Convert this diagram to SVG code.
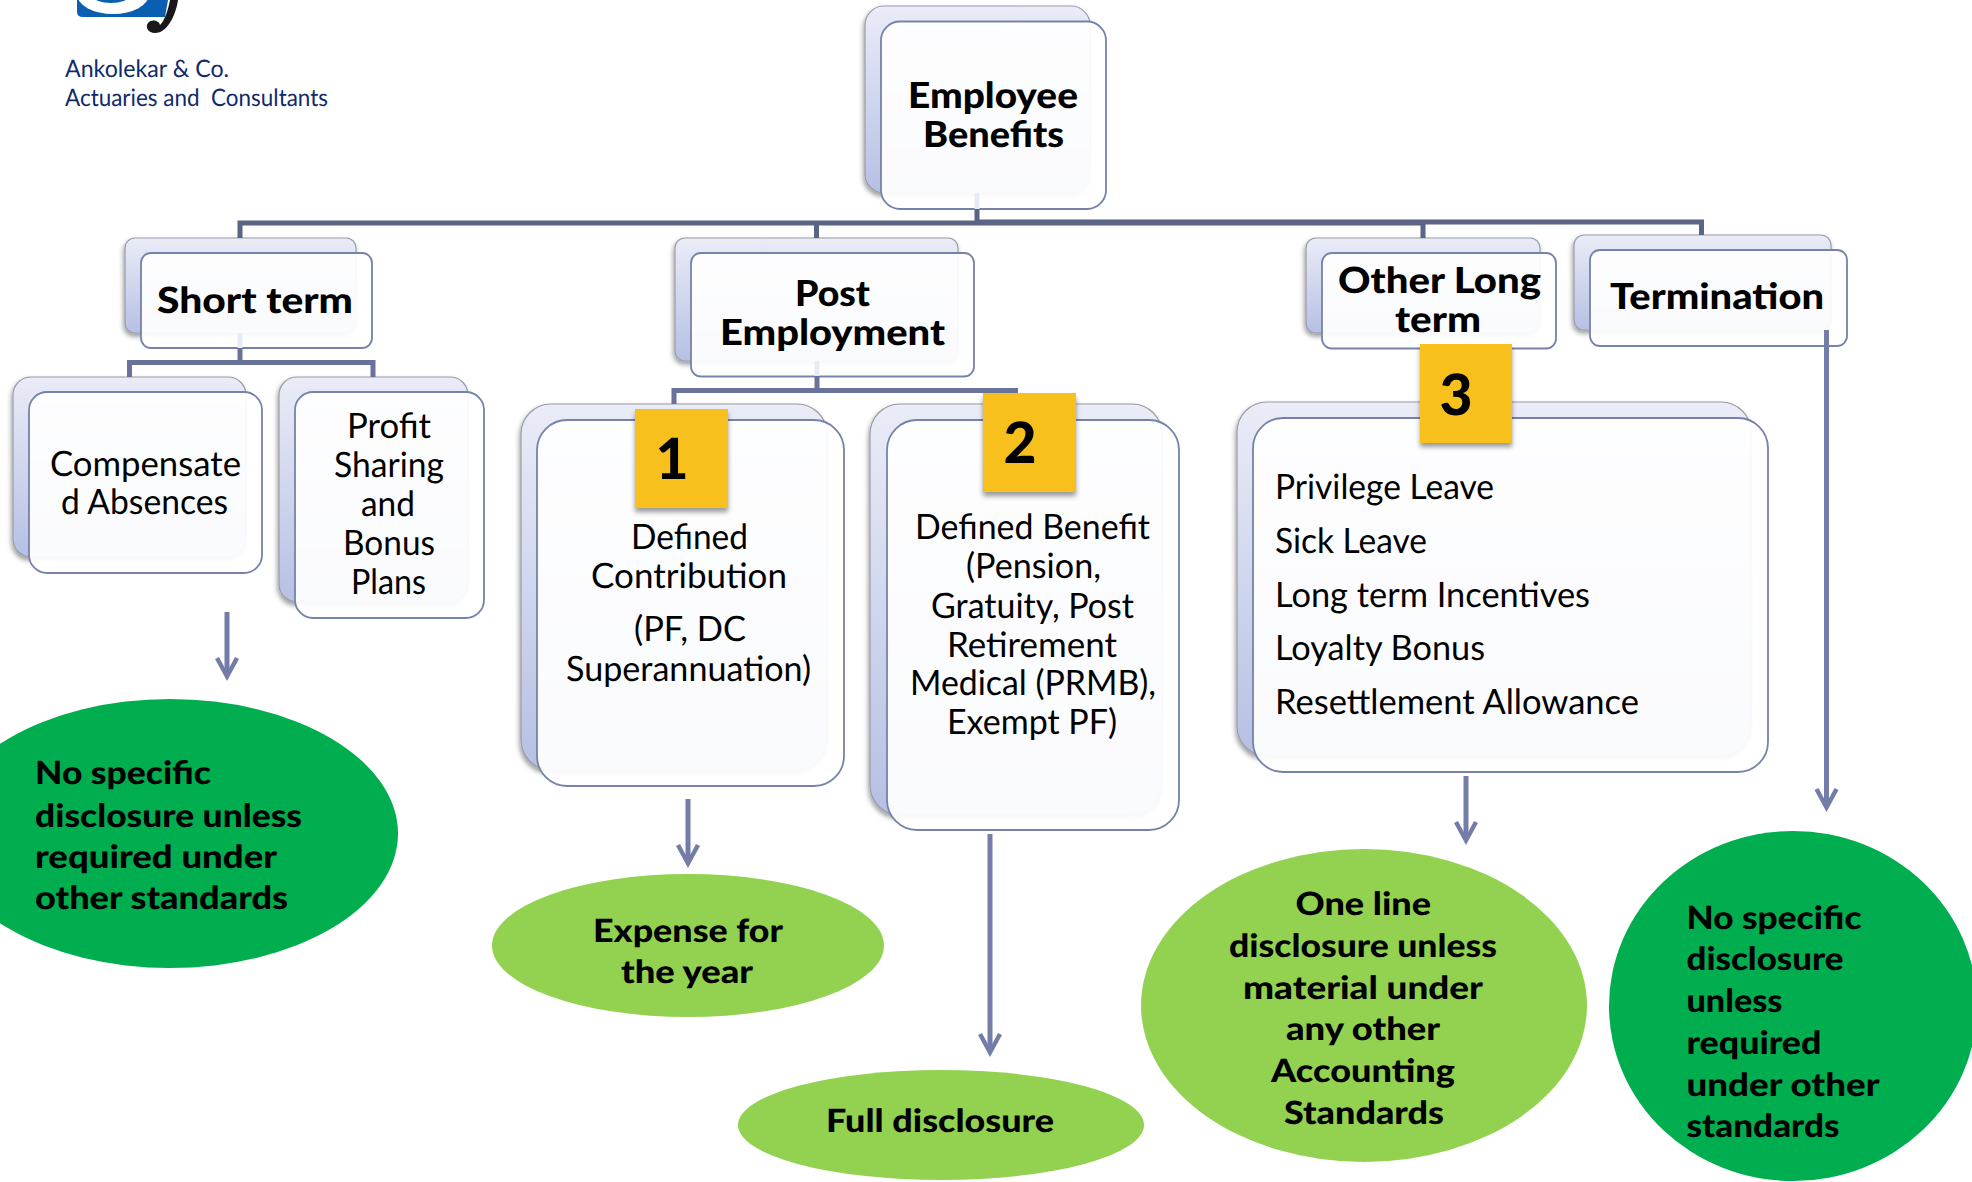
<svg xmlns="http://www.w3.org/2000/svg" width="1972" height="1182" viewBox="0 0 1972 1182">
<style>
text{font-family:"Lato","Liberation Sans",sans-serif;fill:#000;text-rendering:geometricPrecision}
.h{font-weight:900;font-size:36px;transform:translate(-1px,1px)}
.r{font-size:35px;transform:translate(-1px,1px)}
.g{font-weight:900;font-size:32px;transform:translate(-1px,1px)}
.n{font-weight:900;font-size:57px}
.l{font-size:24px;fill:#0f2a6c;transform:translate(-1px,0)}
.back{fill:url(#bk);stroke:#999ca6;stroke-width:1.2;filter:url(#sh)}
.front{fill:#fff;fill-opacity:.93;stroke:#7682ab;stroke-width:1.8}
.badge{fill:#f8c01e;filter:url(#sh2)}
.t1{fill:none;stroke:#5a6484;stroke-width:5}
.t2{fill:none;stroke:#68729a;stroke-width:5}
.f{fill:none;stroke:#e9ebf2;stroke-width:5}
.a{fill:none;stroke:#737da8;stroke-width:5;marker-end:url(#ah)}
.dk{fill:#00ae50}
.lt{fill:#92d250}
</style>
<defs>
<linearGradient id="bk" x1="0" y1="0" x2="0" y2="1"><stop offset="0" stop-color="#eaecf7"/><stop offset="1" stop-color="#b6c0e4"/></linearGradient>
<filter id="sh" x="-10%" y="-10%" width="120%" height="120%"><feDropShadow dx="-1" dy="3" stdDeviation="2.5" flood-color="#000" flood-opacity=".4"/></filter>
<filter id="sh2" x="-15%" y="-15%" width="130%" height="130%"><feDropShadow dx="0" dy="4" stdDeviation="2.5" flood-color="#000" flood-opacity=".4"/></filter>
<marker id="ah" markerUnits="userSpaceOnUse" viewBox="-24 -13 25 26" refX="-6" refY="0" markerWidth="25" markerHeight="26" orient="auto"><path d="M0,0 L-22,-12 L-24,-8 L-9,0 L-24,8 L-22,12 Z" fill="#737da8"/></marker>
</defs>
<rect width="1972" height="1182" fill="#fff"/>

<g id="logo">
<path d="M77,0 L77,12 Q77,17 83,17 L165,17 L168,0 Z" fill="#0a5fb0"/>
<ellipse cx="113" cy="-6" rx="36" ry="20" fill="#fff"/>
<ellipse cx="111" cy="-4" rx="18" ry="7" fill="#0a5fb0"/>
<path d="M170,0 L178,0 C176,14 168,33 155,33 C148,33 145,27 148,23 C151,19 159,20 160,25 C165,20 168,10 170,0 Z" fill="#1a1718"/>
<text class="l" x="66" y="77" textLength="164" lengthAdjust="spacingAndGlyphs">Ankolekar &amp; Co.</text>
<text class="l" x="66" y="106" textLength="263" lengthAdjust="spacingAndGlyphs" xml:space="preserve">Actuaries and  Consultants</text>
</g>

<g id="employee-benefits">
<rect class="back" x="865" y="6" width="225" height="187" rx="19"/>
<rect class="front" x="881" y="21.5" width="225" height="187.5" rx="19"/>
<text class="h" x="909" y="107" textLength="170" lengthAdjust="spacingAndGlyphs">Employee</text>
<text class="h" x="924" y="146" textLength="141" lengthAdjust="spacingAndGlyphs">Benefits</text>
</g>
<g id="short-term">
<rect class="back" x="125" y="238" width="231" height="95" rx="10"/>
<rect class="front" x="141" y="253" width="231" height="95" rx="10"/>
<text class="h" x="158" y="312" textLength="196" lengthAdjust="spacingAndGlyphs">Short term</text>
</g>
<g id="post-employment">
<rect class="back" x="675" y="238" width="283" height="123" rx="10"/>
<rect class="front" x="691" y="253" width="283" height="123.5" rx="10"/>
<text class="h" x="796" y="305" textLength="75" lengthAdjust="spacingAndGlyphs">Post</text>
<text class="h" x="721" y="344" textLength="225" lengthAdjust="spacingAndGlyphs">Employment</text>
</g>
<g id="other-long-term">
<rect class="back" x="1306" y="238" width="234" height="95" rx="10"/>
<rect class="front" x="1322" y="253" width="234" height="95.500" rx="10"/>
<text class="h" x="1339" y="292" textLength="203" lengthAdjust="spacingAndGlyphs">Other Long</text>
<text class="h" x="1396" y="331" textLength="86" lengthAdjust="spacingAndGlyphs">term</text>
</g>
<g id="termination">
<rect class="back" x="1574" y="235" width="257" height="95" rx="10"/>
<rect class="front" x="1590" y="250" width="257" height="96" rx="10"/>
<text class="h" x="1611" y="308" textLength="214" lengthAdjust="spacingAndGlyphs">Termination</text>
</g>
<g id="compensated-absences">
<rect class="back" x="13" y="377" width="233" height="180" rx="18"/>
<rect class="front" x="29" y="392" width="233" height="181" rx="18"/>
<text class="r" x="51" y="475" textLength="191" lengthAdjust="spacingAndGlyphs">Compensate</text>
<text class="r" x="62" y="513" textLength="167" lengthAdjust="spacingAndGlyphs">d Absences</text>
</g>
<g id="profit-sharing">
<rect class="back" x="279" y="377" width="189" height="225" rx="18"/>
<rect class="front" x="295" y="392" width="189" height="226" rx="18"/>
<text class="r" x="348" y="437" textLength="84" lengthAdjust="spacingAndGlyphs">Profit</text>
<text class="r" x="335" y="476" textLength="110" lengthAdjust="spacingAndGlyphs">Sharing</text>
<text class="r" x="362" y="515" textLength="54" lengthAdjust="spacingAndGlyphs">and</text>
<text class="r" x="344" y="554" textLength="92" lengthAdjust="spacingAndGlyphs">Bonus</text>
<text class="r" x="352" y="593" textLength="75" lengthAdjust="spacingAndGlyphs">Plans</text>
</g>
<g id="defined-contribution">
<rect class="back" x="521" y="404" width="306" height="366" rx="30"/>
<rect class="front" x="537" y="420" width="307" height="366" rx="30"/>
<rect class="badge" x="635" y="409" width="93" height="99"/>
<text class="n" x="672" y="479" text-anchor="middle">1</text>
<text class="r" x="632" y="548" textLength="117" lengthAdjust="spacingAndGlyphs">Defined</text>
<text class="r" x="592" y="587" textLength="196" lengthAdjust="spacingAndGlyphs">Contribution</text>
<text class="r" x="635" y="640" textLength="112" lengthAdjust="spacingAndGlyphs">(PF, DC</text>
<text class="r" x="567" y="680" textLength="245" lengthAdjust="spacingAndGlyphs">Superannuation)</text>
</g>
<g id="defined-benefit">
<rect class="back" x="870" y="404" width="292" height="411" rx="30"/>
<rect class="front" x="887" y="420" width="292" height="410" rx="30"/>
<rect class="badge" x="983" y="393" width="93" height="99"/>
<text class="n" x="1020" y="463" text-anchor="middle">2</text>
<text class="r" x="916" y="538" textLength="235" lengthAdjust="spacingAndGlyphs">Defined Benefit</text>
<text class="r" x="967" y="577" textLength="135" lengthAdjust="spacingAndGlyphs">(Pension,</text>
<text class="r" x="932" y="617" textLength="203" lengthAdjust="spacingAndGlyphs">Gratuity, Post</text>
<text class="r" x="948" y="656" textLength="170" lengthAdjust="spacingAndGlyphs">Retirement</text>
<text class="r" x="911" y="694" textLength="246" lengthAdjust="spacingAndGlyphs">Medical (PRMB),</text>
<text class="r" x="948" y="733" textLength="170" lengthAdjust="spacingAndGlyphs">Exempt PF)</text>
</g>
<g id="other-long-term-items">
<rect class="back" x="1237" y="402" width="514" height="354" rx="30"/>
<rect class="front" x="1253" y="418" width="515" height="354" rx="30"/>
<rect class="badge" x="1420" y="344" width="92" height="99"/>
<text class="n" x="1456" y="415" text-anchor="middle">3</text>
<text class="r" x="1276" y="498" textLength="219" lengthAdjust="spacingAndGlyphs">Privilege Leave</text>
<text class="r" x="1276" y="552" textLength="152" lengthAdjust="spacingAndGlyphs">Sick Leave</text>
<text class="r" x="1276" y="606" textLength="315" lengthAdjust="spacingAndGlyphs">Long term Incentives</text>
<text class="r" x="1276" y="659" textLength="210" lengthAdjust="spacingAndGlyphs">Loyalty Bonus</text>
<text class="r" x="1276" y="713" textLength="364" lengthAdjust="spacingAndGlyphs">Resettlement Allowance</text>
</g>

<g id="outcome-short-term">
<ellipse class="dk" cx="170" cy="833.5" rx="228" ry="134.5"/>
<text class="g" x="36" y="783" textLength="176" lengthAdjust="spacingAndGlyphs">No specific</text>
<text class="g" x="36" y="826" textLength="267" lengthAdjust="spacingAndGlyphs">disclosure unless</text>
<text class="g" x="36" y="867" textLength="242" lengthAdjust="spacingAndGlyphs">required under</text>
<text class="g" x="36" y="908" textLength="253" lengthAdjust="spacingAndGlyphs">other standards</text>
</g>
<g id="outcome-defined-contribution">
<ellipse class="lt" cx="688" cy="945.5" rx="196" ry="71.5"/>
<text class="g" x="594" y="941" textLength="190" lengthAdjust="spacingAndGlyphs">Expense for</text>
<text class="g" x="622" y="982" textLength="132" lengthAdjust="spacingAndGlyphs">the year</text>
</g>
<g id="outcome-defined-benefit">
<ellipse class="lt" cx="941" cy="1125" rx="203" ry="55"/>
<text class="g" x="827" y="1131" textLength="228" lengthAdjust="spacingAndGlyphs">Full disclosure</text>
</g>
<g id="outcome-other-long-term">
<ellipse class="lt" cx="1364" cy="1005.5" rx="223" ry="156.5"/>
<text class="g" x="1296.5" y="914" textLength="135.500" lengthAdjust="spacingAndGlyphs">One line</text>
<text class="g" x="1230" y="956" textLength="268" lengthAdjust="spacingAndGlyphs">disclosure unless</text>
<text class="g" x="1244" y="998" textLength="240" lengthAdjust="spacingAndGlyphs">material under</text>
<text class="g" x="1287" y="1039" textLength="154" lengthAdjust="spacingAndGlyphs">any other</text>
<text class="g" x="1272" y="1081" textLength="184" lengthAdjust="spacingAndGlyphs">Accounting</text>
<text class="g" x="1285" y="1123" textLength="160" lengthAdjust="spacingAndGlyphs">Standards</text>
</g>
<g id="outcome-termination">
<ellipse class="dk" cx="1793" cy="1006" rx="184" ry="175"/>
<text class="g" x="1687.500" y="928" textLength="175" lengthAdjust="spacingAndGlyphs">No specific</text>
<text class="g" x="1687.500" y="969" textLength="157" lengthAdjust="spacingAndGlyphs">disclosure</text>
<text class="g" x="1687.500" y="1011" textLength="96" lengthAdjust="spacingAndGlyphs">unless</text>
<text class="g" x="1687.500" y="1053" textLength="135" lengthAdjust="spacingAndGlyphs">required</text>
<text class="g" x="1687.500" y="1095" textLength="193" lengthAdjust="spacingAndGlyphs">under other</text>
<text class="g" x="1687.500" y="1136" textLength="153" lengthAdjust="spacingAndGlyphs">standards</text>
</g>

<g id="connectors">
<path class="f" d="M977,193V209M240,333V348M817,361V376"/>
<path class="t1" d="M977,209V223M240,238V223H1423M816.500,223V238M1423,223V238"/>
<path class="t1" d="M977,222H1701.500V235"/>
<path class="t2" d="M240,348V362.500M129.500,377V362.500H373V377"/>
<path class="t2" d="M817,376V390.500M674,404V390.500H1018"/>
<path class="a" d="M227,612V675"/>
<path class="a" d="M688,799V862"/>
<path class="a" d="M990,834V1051"/>
<path class="a" d="M1466,776V839"/>
<path class="a" d="M1826.500,330V806"/>
</g>
</svg>
